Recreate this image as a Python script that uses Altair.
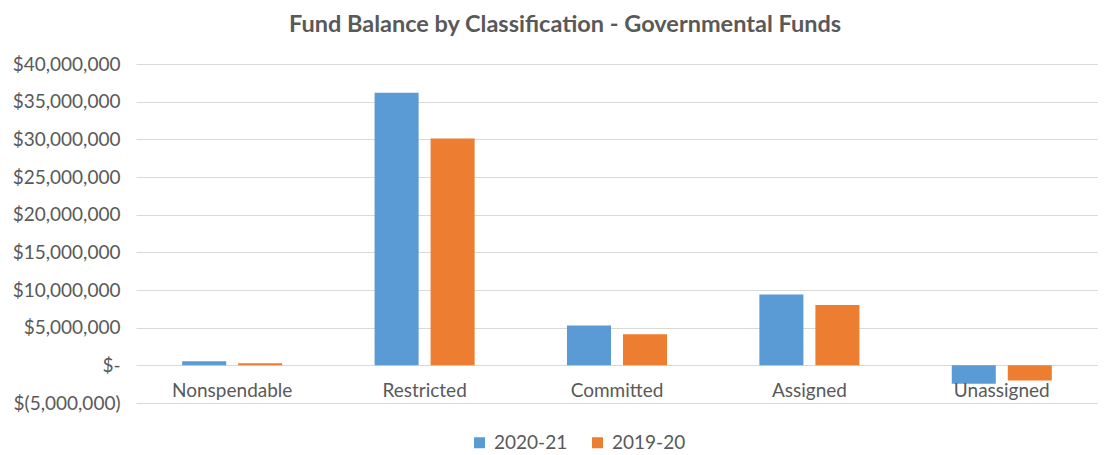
import altair as alt
import pandas as pd

categories = ["Nonspendable", "Restricted", "Committed", "Assigned", "Unassigned"]
series = ["2020-21", "2019-20"]
values_2020_21 = [530000, 36200000, 5300000, 9400000, -2430000]
values_2019_20 = [270000, 30100000, 4120000, 8000000, -2000000]
colors = ["#5B9BD5", "#ED7D31"]
y_ticks = [-5000000, 0, 5000000, 10000000, 15000000, 20000000, 25000000, 30000000, 35000000, 40000000]

rows = []
for c, a, b in zip(categories, values_2020_21, values_2019_20):
    rows.append({"category": c, "series": series[0], "value": a})
    rows.append({"category": c, "series": series[1], "value": b})
df = pd.DataFrame(rows)
labels_df = pd.DataFrame({"category": categories})

FONT = "Lato"
GRAY = "#595959"

xscale = alt.Scale(domain=categories, paddingInner=0.48, paddingOuter=0.24)
yscale = alt.Scale(domain=[-5000000, 40000000], nice=False, zero=False)
y_axis = alt.Axis(values=y_ticks, title=None, domain=False, ticks=False,
                  grid=True, gridColor="#d9d9d9", gridWidth=1,
                  labelFont=FONT, labelFontSize=19, labelColor=GRAY,
                  labelPadding=16, labelOverlap=False,
                  labelExpr="datum.value == 0 ? '$-' : (datum.value < 0 ? '$(' + format(-datum.value, ',') + ')' : '$' + format(datum.value, ','))")

bars = alt.Chart(df).mark_bar().encode(
    x=alt.X("category:N", sort=categories, scale=xscale, axis=None),
    xOffset=alt.XOffset("series:N", sort=series,
                        scale=alt.Scale(domain=series, paddingInner=0.214, paddingOuter=0)),
    y=alt.Y("value:Q", scale=yscale, axis=y_axis),
    color=alt.Color("series:N", sort=series,
                    scale=alt.Scale(domain=series, range=colors),
                    legend=alt.Legend(title=None, orient="none", direction="horizontal",
                                      legendX=334, legendY=369,
                                      symbolType="square", symbolSize=121,
                                      symbolStrokeWidth=0,
                                      labelFont=FONT, labelFontSize=19, labelColor=GRAY,
                                      labelOffset=5, columnPadding=20)),
)

labels = alt.Chart(labels_df).mark_text(
    font=FONT, fontSize=19, color=GRAY, dy=26, baseline="middle"
).encode(
    x=alt.X("category:N", sort=categories, scale=xscale, axis=None),
    y=alt.YDatum(0, scale=yscale, axis=y_axis),
    text="category:N",
)

chart = alt.layer(bars, labels).properties(
    width=962,
    height=339,
    title=alt.Title("Fund Balance by Classification - Governmental Funds",
                    font=FONT, fontSize=23.5, fontWeight="bold", color=GRAY,
                    anchor="middle", offset=19, dx=-52),
    autosize=alt.AutoSizeParams(type="none"),
    padding={"left": 128, "top": 56, "right": 0, "bottom": 52},
).configure_view(stroke=None).configure_axis(labelOverlap=False)

chart.save("out.html", embed_options={"renderer": "svg", "actions": False})
